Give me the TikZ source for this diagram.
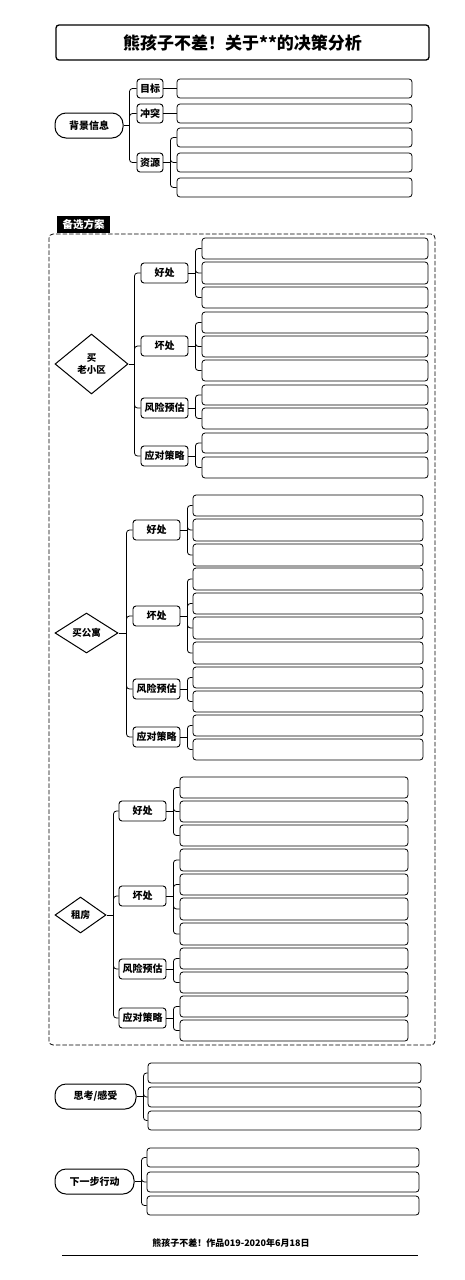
\documentclass[tikz,border=0pt]{standalone}
\usepackage{fontspec}
\setmainfont{Noto Sans CJK SC}
\usetikzlibrary{shapes.geometric}
\tikzset{
  conn/.style={draw=black, line width=0.8pt},
  leafbox/.style={draw=black, line width=0.8pt, rounded corners=3pt, inner sep=0pt},
  subbox/.style={draw=black, line width=0.9pt, rounded corners=3pt, inner sep=0pt, font=\bfseries\fontsize{10}{12}\selectfont},
  pill/.style={draw=black, line width=1pt, rounded corners=11pt, inner sep=0pt, font=\bfseries\fontsize{10}{12}\selectfont},
  choice/.style={diamond, draw=black, line width=1pt, inner sep=0pt, align=center, font=\bfseries\fontsize{9.5}{12}\selectfont},
  titlebox/.style={draw=black, line width=1.3pt, rounded corners=3pt, inner sep=0pt, font=\bfseries\fontsize{17}{20}\selectfont},
  tagbox/.style={fill=black, text=white, inner sep=0pt, font=\bfseries\fontsize{10.5}{12}\selectfont},
  framebox/.style={draw=black, line width=0.8pt, dash pattern=on 4.5pt off 2pt, rounded corners=4pt, inner sep=0pt},
  foottext/.style={font=\bfseries\fontsize{9}{11}\selectfont, inner sep=0pt}
}
\newcommand\bx[7]{%
  \pgfmathsetmacro\myW{#5-#3}\pgfmathsetmacro\myH{#6-#4}%
  \pgfmathsetmacro\myX{(#3+#5)/2}\pgfmathsetmacro\myY{(#4+#6)/2}%
  \node[#1,minimum width=\myW pt,minimum height=\myH pt] (#2) at (\myX,\myY) {#7};}
\newcommand\fan[3]{%
  \path (#1.east) ++(#2,0) coordinate (#1j);
  \draw[conn] (#1.east) -- (#1j);
  \foreach \kid in {#3} {\draw[conn, rounded corners=3pt] (#1j) |- (\kid.west);}}
\begin{document}
\begin{tikzpicture}[x=1pt,y=-1pt]
\useasboundingbox (0,0) rectangle (465,1280);
% title
\bx{titlebox}{title}{56}{25}{429}{60}{熊孩子不差！关于**的决策分析}
% background
\bx{pill}{bg}{55}{113}{123}{138}{背景信息}
\bx{subbox}{bgA}{137}{79}{163}{98}{目标}
\bx{subbox}{bgB}{137}{104}{163}{123}{冲突}
\bx{subbox}{bgC}{137}{153}{163}{172}{资源}
\bx{leafbox}{bgA1}{177}{79}{412}{98}{}
\bx{leafbox}{bgB1}{177}{104}{412}{123}{}
\bx{leafbox}{bgC1}{177}{128}{412}{147}{}
\bx{leafbox}{bgC2}{177}{153}{412}{172}{}
\bx{leafbox}{bgC3}{177}{178}{412}{197}{}
\fan{bg}{6}{bgA,bgB,bgC}
\draw[conn] (bgA.east) -- (bgA1.west);
\draw[conn] (bgB.east) -- (bgB1.west);
\fan{bgC}{7}{bgC1,bgC2,bgC3}
% alternatives frame
\bx{framebox}{frm}{49}{234}{435}{1045}{}
\bx{tagbox}{tag}{57}{216}{110}{233}{备选方案}
% section 1
\node[choice, minimum width=73pt, minimum height=60pt] (s1) at (91.5,364) {买\\老小区};
\bx{subbox}{s1a}{141}{263}{188}{283}{好处}
\bx{subbox}{s1b}{141}{336}{188}{356}{坏处}
\bx{subbox}{s1c}{141}{398}{188}{418}{风险预估}
\bx{subbox}{s1d}{141}{446}{188}{466}{应对策略}
\fan{s1}{6}{s1a,s1b,s1c,s1d}
\bx{leafbox}{s1a1}{202}{238}{428}{259}{}
\bx{leafbox}{s1a2}{202}{262}{428}{284}{}
\bx{leafbox}{s1a3}{202}{287}{428}{308}{}
\bx{leafbox}{s1b1}{202}{312}{428}{333}{}
\bx{leafbox}{s1b2}{202}{336}{428}{357}{}
\bx{leafbox}{s1b3}{202}{360}{428}{381}{}
\bx{leafbox}{s1c1}{202}{385}{428}{405}{}
\bx{leafbox}{s1c2}{202}{408}{428}{429}{}
\bx{leafbox}{s1d1}{202}{433}{428}{453}{}
\bx{leafbox}{s1d2}{202}{457}{428}{478}{}
\fan{s1a}{7}{s1a1,s1a2,s1a3}
\fan{s1b}{7}{s1b1,s1b2,s1b3}
\fan{s1c}{7}{s1c1,s1c2}
\fan{s1d}{7}{s1d1,s1d2}
% section 2
\node[choice, minimum width=63pt, minimum height=40pt] (s2) at (86.5,633) {买公寓};
\bx{subbox}{s2a}{133}{520}{180}{540}{好处}
\bx{subbox}{s2b}{133}{606}{180}{626}{坏处}
\bx{subbox}{s2c}{133}{679}{180}{699}{风险预估}
\bx{subbox}{s2d}{133}{727}{180}{747}{应对策略}
\fan{s2}{8}{s2a,s2b,s2c,s2d}
\bx{leafbox}{s2a1}{193}{495}{423}{516}{}
\bx{leafbox}{s2a2}{193}{519}{423}{541}{}
\bx{leafbox}{s2a3}{193}{544}{423}{566}{}
\bx{leafbox}{s2b1}{193}{568}{423}{590}{}
\bx{leafbox}{s2b2}{193}{593}{423}{614}{}
\bx{leafbox}{s2b3}{193}{617}{423}{639}{}
\bx{leafbox}{s2b4}{193}{642}{423}{664}{}
\bx{leafbox}{s2c1}{193}{667}{423}{688}{}
\bx{leafbox}{s2c2}{193}{691}{423}{712}{}
\bx{leafbox}{s2d1}{193}{715}{423}{736}{}
\bx{leafbox}{s2d2}{193}{739}{423}{760}{}
\fan{s2a}{7}{s2a1,s2a2,s2a3}
\fan{s2b}{7}{s2b1,s2b2,s2b3,s2b4}
\fan{s2c}{7}{s2c1,s2c2}
\fan{s2d}{7}{s2d1,s2d2}
% section 3
\node[choice, minimum width=51pt, minimum height=36pt] (s3) at (80.5,915) {租房};
\bx{subbox}{s3a}{119}{801}{166}{821}{好处}
\bx{subbox}{s3b}{119}{886}{166}{906}{坏处}
\bx{subbox}{s3c}{119}{959}{166}{979}{风险预估}
\bx{subbox}{s3d}{119}{1008}{166}{1028}{应对策略}
\fan{s3}{7}{s3a,s3b,s3c,s3d}
\bx{leafbox}{s3a1}{180}{777}{408}{798}{}
\bx{leafbox}{s3a2}{180}{801}{408}{822}{}
\bx{leafbox}{s3a3}{180}{825}{408}{846}{}
\bx{leafbox}{s3b1}{180}{849}{408}{871}{}
\bx{leafbox}{s3b2}{180}{874}{408}{895}{}
\bx{leafbox}{s3b3}{180}{898}{408}{920}{}
\bx{leafbox}{s3b4}{180}{923}{408}{945}{}
\bx{leafbox}{s3c1}{180}{948}{408}{969}{}
\bx{leafbox}{s3c2}{180}{972}{408}{993}{}
\bx{leafbox}{s3d1}{180}{996}{408}{1017}{}
\bx{leafbox}{s3d2}{180}{1020}{408}{1041}{}
\fan{s3a}{7}{s3a1,s3a2,s3a3}
\fan{s3b}{7}{s3b1,s3b2,s3b3,s3b4}
\fan{s3c}{7}{s3c1,s3c2}
\fan{s3d}{7}{s3d1,s3d2}
% thoughts
\bx{pill}{th}{55}{1084}{136}{1109}{思考/感受}
\bx{leafbox}{th1}{148}{1063}{421}{1083}{}
\bx{leafbox}{th2}{148}{1087}{421}{1107}{}
\bx{leafbox}{th3}{148}{1111}{421}{1130}{}
\fan{th}{7}{th1,th2,th3}
% next steps
\bx{pill}{nx}{55}{1169}{134}{1194}{下一步行动}
\bx{leafbox}{nx1}{147}{1148}{419}{1167}{}
\bx{leafbox}{nx2}{147}{1172}{419}{1192}{}
\bx{leafbox}{nx3}{147}{1196}{419}{1215}{}
\fan{nx}{7}{nx1,nx2,nx3}
% footer
\node[foottext] (foot) at (231,1243) {熊孩子不差！作品019-2020年6月18日};
\coordinate (rulel) at (62,1255);
\coordinate (ruler) at (418,1255);
\draw[conn] (rulel) -- (ruler);
\end{tikzpicture}
\end{document}
